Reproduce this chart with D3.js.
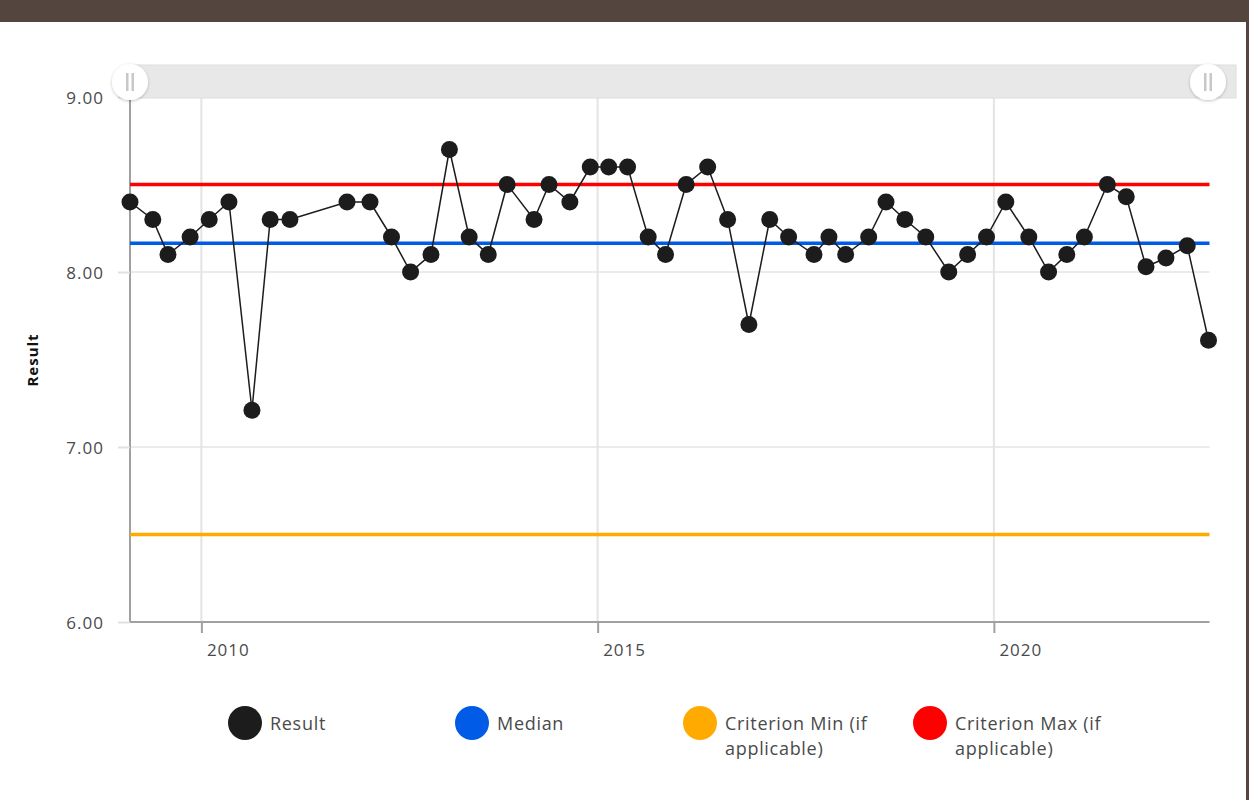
<!DOCTYPE html>
<html>
<head>
<meta charset="utf-8">
<script src="https://cdn.jsdelivr.net/npm/d3@7"></script>
<style>
  html, body { margin: 0; padding: 0; background: #fff; }
  svg { display: block; }
  text { font-family: "Open Sans", Lato, sans-serif; }
</style>
</head>
<body>
<svg id="chart" width="1249" height="800"></svg>
<script>
// ---- data ----
const dates = [
  "2009-02-06","2009-05-22","2009-07-31","2009-11-10","2010-02-06","2010-05-08","2010-08-22","2010-11-14",
  "2011-02-13","2011-11-03","2012-02-17","2012-05-26","2012-08-22","2012-11-24","2013-02-17","2013-05-19",
  "2013-08-15","2013-11-10","2014-03-14","2014-05-22","2014-08-26","2014-11-28","2015-02-21","2015-05-19",
  "2015-08-22","2015-11-10","2016-02-13","2016-05-22","2016-08-22","2016-11-28","2017-03-04","2017-05-30",
  "2017-09-24","2017-12-02","2018-02-17","2018-06-03","2018-08-22","2018-11-17","2019-02-21","2019-06-07",
  "2019-09-02","2019-11-28","2020-02-25","2020-06-10","2020-09-09","2020-12-02","2021-02-21","2021-06-07",
  "2021-09-02","2021-12-02","2022-03-04","2022-06-10","2022-09-16"
];
const results = [
  8.40,8.30,8.10,8.20,8.30,8.40,7.21,8.30,
  8.30,8.40,8.40,8.20,8.00,8.10,8.70,8.20,
  8.10,8.50,8.30,8.50,8.40,8.60,8.60,8.60,
  8.20,8.10,8.50,8.60,8.30,7.70,8.30,8.20,
  8.10,8.20,8.10,8.20,8.40,8.30,8.20,8.00,
  8.10,8.20,8.40,8.20,8.00,8.10,8.20,8.50,
  8.43,8.03,8.08,8.15,7.61
];
const median = 8.165;
const criterionMin = 6.5;
const criterionMax = 8.5;
const yTicks = [6, 7, 8, 9];
const xTickYears = [2010, 2015, 2020];
const legendLabels = ["Result", "Median", "Criterion Min (if|applicable)", "Criterion Max (if|applicable)"];
const legendColors = ["#1c1c1c", "#005ce6", "#ffaa00", "#ff0000"];

// ---- layout ----
const svg = d3.select("#chart");
const pLeft = 130, pRight = 1208.5, pTop = 97, pBottom = 622;
const parse = d3.timeParse("%Y-%m-%d");
const pts = dates.map((d, i) => ({ date: parse(d), value: results[i] }));

const x = d3.scaleTime().domain(d3.extent(pts, d => d.date)).range([pLeft, pRight]);
const y = d3.scaleLinear().domain([6, 9]).range([pBottom, pTop]);

// frame decorations
svg.append("rect").attr("x", 0).attr("y", 0).attr("width", 1249).attr("height", 22).attr("fill", "#54453f");
svg.append("rect").attr("x", 1246).attr("y", 0).attr("width", 3).attr("height", 800).attr("fill", "#54453f");

// gridlines
const g = svg.append("g");
g.selectAll("line.hgrid").data(yTicks.filter(t => t > 6)).join("line")
  .attr("x1", pLeft).attr("x2", pRight + 1).attr("y1", d => y(d)).attr("y2", d => y(d))
  .attr("stroke", "#ebebeb").attr("stroke-width", 2);
const xTickDates = xTickYears.map(yr => new Date(yr, 0, 1));
g.selectAll("line.vgrid").data(xTickDates).join("line")
  .attr("x1", d => x(d)).attr("x2", d => x(d)).attr("y1", pTop).attr("y2", pBottom)
  .attr("stroke", "#e4e4e4").attr("stroke-width", 2);

// axes
const tickFont = { size: "17px", spacing: "1px", color: "#4a4a4a" };
const yAxis = svg.append("g").attr("transform", `translate(${pLeft},0)`)
  .call(d3.axisLeft(y).tickValues(yTicks).tickFormat(d3.format(".2f")).tickSize(12).tickPadding(14));
yAxis.select(".domain").attr("stroke", "#a0a0a0").attr("stroke-width", 2).attr("d", `M0,${pTop}V${pBottom}`);
yAxis.selectAll(".tick line").attr("stroke", "#e0e0e0").attr("stroke-width", 2);
yAxis.selectAll(".tick text").attr("fill", tickFont.color).style("font-size", tickFont.size)
  .style("font-family", "'Open Sans', sans-serif").style("letter-spacing", tickFont.spacing).attr("dy", "0.4em");

const xAxis = svg.append("g").attr("transform", `translate(0,${pBottom})`)
  .call(d3.axisBottom(x).tickValues(xTickDates).tickFormat(d3.timeFormat("%Y")).tickSize(11).tickPadding(11));
xAxis.select(".domain").attr("stroke", "#a0a0a0").attr("stroke-width", 2).attr("d", `M${pLeft},0H${pRight + 1}`);
xAxis.selectAll(".tick line").attr("stroke", "#a0a0a0").attr("stroke-width", 2);
xAxis.selectAll(".tick text").attr("fill", tickFont.color).style("font-size", tickFont.size)
  .style("font-family", "'Open Sans', sans-serif").style("letter-spacing", tickFont.spacing)
  .attr("text-anchor", "start").attr("x", 5);

// reference lines
const refs = [
  { v: criterionMin, c: legendColors[2] },
  { v: criterionMax, c: legendColors[3] },
  { v: median, c: legendColors[1] }
];
svg.append("g").selectAll("line").data(refs).join("line")
  .attr("x1", pLeft).attr("x2", pRight + 1).attr("y1", d => y(d.v)).attr("y2", d => y(d.v))
  .attr("stroke", d => d.c).attr("stroke-width", 3.5);

// result line + points
svg.append("path").datum(pts)
  .attr("d", d3.line().x(d => x(d.date)).y(d => y(d.value)))
  .attr("fill", "none").attr("stroke", "#1c1c1c").attr("stroke-width", 1.5);
svg.append("g").selectAll("circle").data(pts).join("circle")
  .attr("cx", d => x(d.date)).attr("cy", d => y(d.value)).attr("r", 8.5)
  .attr("fill", legendColors[0]);

// scrollbar
const defs = svg.append("defs");
const f = defs.append("filter").attr("id", "sh").attr("x", "-50%").attr("y", "-50%").attr("width", "200%").attr("height", "200%");
f.append("feDropShadow").attr("dx", 0).attr("dy", 1).attr("stdDeviation", 1.5).attr("flood-color", "#000").attr("flood-opacity", 0.25);
svg.append("rect").attr("x", pLeft).attr("y", 65).attr("width", 1236 - pLeft).attr("height", 33)
  .attr("fill", "#e8e8e8").attr("stroke", "#dedede").attr("stroke-width", 1);
[pLeft, 1208].forEach(cx => {
  const h = svg.append("g");
  h.append("circle").attr("cx", cx).attr("cy", 82).attr("r", 18).attr("fill", "#fff").attr("filter", "url(#sh)");
  h.append("rect").attr("x", cx - 4).attr("y", 73).attr("width", 2.5).attr("height", 18).attr("fill", "#c8c8c8");
  h.append("rect").attr("x", cx + 1.5).attr("y", 73).attr("width", 2.5).attr("height", 18).attr("fill", "#c8c8c8");
});

// y label
svg.append("text").attr("transform", "translate(38,360) rotate(-90)")
  .attr("text-anchor", "middle").attr("font-weight", "bold").attr("font-size", 15)
  .style("letter-spacing", "1px").attr("fill", "#111")
  .text("Result");

// legend
const legX = [245, 472, 700, 930];
const leg = svg.append("g").selectAll("g").data(legendLabels).join("g")
  .attr("transform", (d, i) => `translate(${legX[i]},723)`);
leg.append("circle").attr("r", 17).attr("fill", (d, i) => legendColors[i]);
leg.each(function(d) {
  const t = d3.select(this).append("text").attr("x", 25).attr("y", 7)
    .attr("fill", "#4a4a4a").style("font-size", "18px").style("letter-spacing", "0.7px");
  d.split("|").forEach((line, k) => {
    t.append("tspan").attr("x", 25).attr("dy", k === 0 ? 0 : 25).text(line);
  });
});
</script>
</body>
</html>
